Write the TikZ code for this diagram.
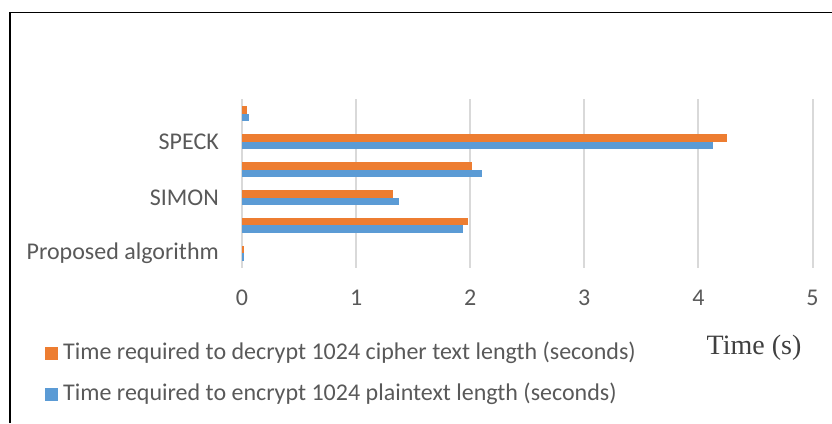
\documentclass[tikz,border=0pt]{standalone}
\usepackage{fontspec}
\setmainfont{Carlito}
\newfontfamily\timesf{Liberation Serif}
\definecolor{encblue}{HTML}{5B9BD5}
\definecolor{decorange}{HTML}{ED7D31}
\definecolor{gridgray}{HTML}{D9D9D9}
\definecolor{txtgray}{HTML}{595959}
\definecolor{darkgray}{HTML}{404040}
\tikzset{
  lbl/.style={font=\fontsize{24}{28}\selectfont, text=txtgray, inner sep=0pt},
  catlbl/.style={lbl, anchor=east},
  ticklbl/.style={lbl, anchor=center},
  gridline/.style={draw=gridgray, line width=2pt},
  frameline/.style={draw=black, line width=1.2pt},
  keybox/.style={minimum width=13pt, minimum height=13pt, inner sep=0pt},
}
\begin{document}
\begin{tikzpicture}[x=1pt,y=-1pt]
\useasboundingbox (0,0) rectangle (832,423);
% frame
\draw[frameline] (10,423) -- (10,12.5) -- (832,12.5);
% grid lines
\foreach \i in {0,...,5} {
  \draw[gridline] ({242+114.1*\i},99) -- ({242+114.1*\i},268);
  \node[ticklbl] (t\i) at ({242+114.1*\i},298) {\i};
}
% bars: boundary, orange value, blue value
\foreach \k/\o/\b in {0/0.045/0.06, 1/4.25/4.125, 2/2.02/2.10, 3/1.32/1.38, 4/1.98/1.935, 5/0.017/0.015} {
  \pgfmathsetmacro{\yb}{113.8+27.9*\k}
  \fill[decorange] (242,{\yb-7.6}) rectangle ({242+114.1*\o},\yb);
  \fill[encblue] (242,\yb) rectangle ({242+114.1*\b},{\yb+7.6});
}
% category labels
\node[catlbl] (speck) at (219,141.7) {SPECK};
\node[catlbl] (simon) at (219,197.5) {SIMON};
\node[catlbl] (prop) at (219,253.3) {Proposed algorithm};
% legend
\node[keybox, fill=decorange] (k1) at (51,353) {};
\node[lbl, anchor=west] (l1) at (63,353) {Time required to decrypt 1024 cipher text length (seconds)};
\node[keybox, fill=encblue] (k2) at (51,394) {};
\node[lbl, anchor=west] (l2) at (63,394) {Time required to encrypt 1024 plaintext length (seconds)};
% axis title
\node[inner sep=0pt, text=darkgray, font=\timesf\fontsize{28}{31}\selectfont, anchor=base] (ttl) at (754,354) {Time (s)};
\end{tikzpicture}
\end{document}
